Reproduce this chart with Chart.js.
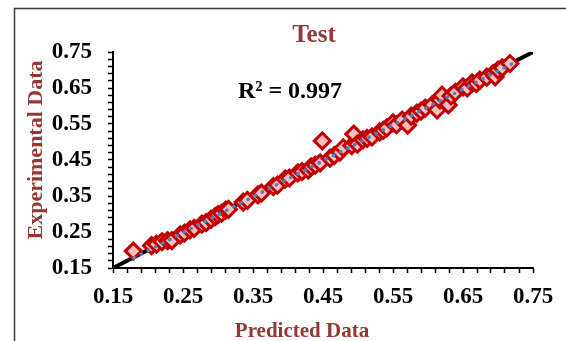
<!DOCTYPE html>
<html><head><meta charset="utf-8">
<script src="https://cdn.jsdelivr.net/npm/chart.js@4/dist/chart.umd.min.js"></script>
<style>html,body{margin:0;padding:0;background:#fff;}#wrap{width:566px;height:341px;}</style>
</head><body><div id="wrap"><canvas id="c" width="566" height="341"></canvas></div>
<script>
const chartTitle = "Test";
const xTitle = "Predicted Data";
const yTitle = "Experimental Data";
const r2Label = "R² = 0.997";
const predicted = [0.179,0.205,0.212,0.220,0.228,0.234,0.246,0.252,0.260,0.266,0.277,0.283,0.290,0.296,0.300,0.305,0.311,0.315,0.336,0.342,0.357,0.362,0.379,0.385,0.396,0.402,0.414,0.420,0.429,0.433,0.439,0.446,0.449,0.460,0.466,0.474,0.479,0.491,0.494,0.499,0.507,0.513,0.520,0.531,0.536,0.541,0.550,0.555,0.563,0.571,0.576,0.584,0.590,0.596,0.606,0.613,0.617,0.620,0.629,0.633,0.639,0.650,0.656,0.663,0.669,0.674,0.684,0.693,0.696,0.700,0.706,0.717];
const experimental = [0.197,0.212,0.216,0.223,0.226,0.226,0.242,0.247,0.256,0.260,0.272,0.276,0.285,0.293,0.298,0.302,0.311,0.313,0.333,0.338,0.353,0.358,0.376,0.380,0.397,0.400,0.414,0.418,0.422,0.431,0.436,0.442,0.503,0.455,0.462,0.472,0.484,0.490,0.522,0.494,0.506,0.510,0.514,0.528,0.532,0.539,0.553,0.548,0.561,0.547,0.572,0.580,0.586,0.594,0.603,0.589,0.617,0.630,0.603,0.628,0.638,0.653,0.650,0.664,0.662,0.672,0.680,0.690,0.681,0.700,0.706,0.718];
const idealX = [0.15, 0.75];
const idealY = [0.15, 0.75];
const trendX = [0.18, 0.72];
const trendY = [0.178, 0.717];
const axisMin = 0.15, axisMax = 0.75, minorStep = 0.02, majorEvery = 5;

const FONT = "'Liberation Serif','Times New Roman',serif";
const pts = (xs, ys) => xs.map((x, i) => ({x, y: ys[i]}));

const tickCb = function(v){
  const k = Math.round((v - axisMin) / minorStep);
  return (k % majorEvery === 0) ? v.toFixed(2) : '';
};

const framePlugin = {
  id: 'frame',
  beforeDraw(chart){
    const ctx = chart.ctx;
    ctx.save();
    ctx.fillStyle = '#fff';
    ctx.fillRect(0,0,chart.width,chart.height);
    ctx.strokeStyle = '#3a3a3a';
    ctx.lineWidth = 1.5;
    ctx.strokeRect(14.5, 8.5, 700, 500);
    ctx.restore();
  },
  afterDraw(chart){
    const ctx = chart.ctx;
    ctx.save();
    ctx.textAlign = 'center';
    ctx.textBaseline = 'alphabetic';
    ctx.fillStyle = '#953735';
    ctx.font = "bold 25px " + FONT;
    ctx.fillText(chartTitle, 314, 42);
    ctx.font = "bold 21px " + FONT;
    ctx.fillText(xTitle, 302, 337);
    ctx.save();
    ctx.translate(42, 150);
    ctx.rotate(-Math.PI/2);
    ctx.font = "bold 22px " + FONT;
    ctx.fillText(yTitle, 0, 0);
    ctx.restore();
    ctx.fillStyle = '#000';
    ctx.font = "bold 24px " + FONT;
    ctx.fillText(r2Label, 290, 98);
    ctx.restore();
  }
};

new Chart(document.getElementById('c'), {
  type: 'scatter',
  data: {
    datasets: [
      { type:'line', data: pts(trendX, trendY), borderColor:'#4f81bd', borderWidth:3.5,
        borderDash:[0.5,7.5], borderCapStyle:'round', pointRadius:0, fill:false, order:1 },
      { data: pts(predicted, experimental), pointStyle:'rectRot', pointRadius:8,
        borderColor:'#c00000', backgroundColor:'#ffbfbf', borderWidth:3, order:2 },
      { type:'line', data: pts(idealX, idealY), borderColor:'#000', borderWidth:4,
        pointRadius:0, fill:false, order:3 }
    ]
  },
  options: {
    responsive:false, animation:false, devicePixelRatio:1,
    layout:{ padding:{ left:0, right:33, top:52, bottom:0 } },
    plugins:{ legend:{ display:false }, tooltip:{ enabled:false }, title:{ display:false } },
    scales:{
      x:{ type:'linear', min:axisMin, max:axisMax,
        afterFit(s){ s.height = 73; },
        grid:{ drawOnChartArea:false, drawTicks:true, tickLength:5, tickColor:'#000', tickWidth:1.5 },
        border:{ color:'#000', width:2 },
        ticks:{ stepSize:minorStep, autoSkip:false, maxRotation:0, callback:tickCb, color:'#000',
          padding:10, font:{ family:FONT, size:23, weight:'bold' } },
        title:{ display:false }
      },
      y:{ type:'linear', min:axisMin, max:axisMax,
        afterFit(s){ s.width = 113; },
        grid:{ drawOnChartArea:false, drawTicks:true, tickLength:5, tickColor:'#000', tickWidth:1.5 },
        border:{ color:'#000', width:2 },
        ticks:{ stepSize:minorStep, autoSkip:false, callback:tickCb, color:'#000',
          padding:16, font:{ family:FONT, size:23, weight:'bold' } },
        title:{ display:false }
      }
    }
  },
  plugins:[framePlugin]
});
</script></body></html>
